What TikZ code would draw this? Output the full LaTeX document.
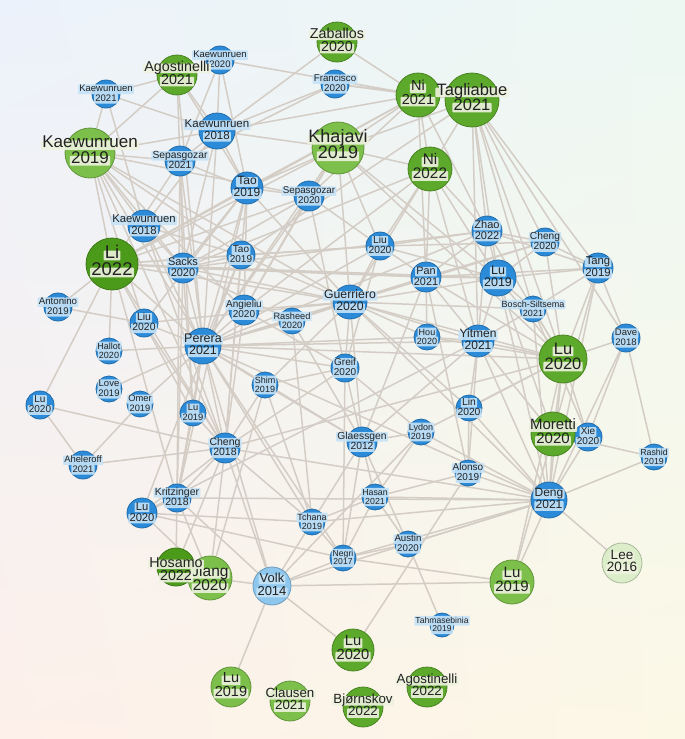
\documentclass[tikz,border=0pt]{standalone}
\usepackage{fontspec}
\setmainfont{Liberation Sans}
\usetikzlibrary{shadings}
\pgfdeclarelayer{bgshade}
\pgfdeclarelayer{edges}
\pgfsetlayers{bgshade,edges,main}
\definecolor{edgec}{HTML}{D4CDC5}
\definecolor{bluec}{HTML}{2B8BD9}
\definecolor{bluev}{HTML}{8DC7EE}
\definecolor{bluel}{HTML}{C6E3F7}
\definecolor{greenc}{HTML}{5DA92B}
\definecolor{greenlt}{HTML}{7DBF4B}
\definecolor{greendk}{HTML}{4C9A1A}
\definecolor{greenpale}{HTML}{DCEDC9}
\definecolor{greenl}{HTML}{EEF2DF}
\definecolor{txt}{HTML}{222222}
\definecolor{bgul}{HTML}{ECF2FB}
\definecolor{bgur}{HTML}{EDF8F3}
\definecolor{bgll}{HTML}{FDF0EA}
\definecolor{bglr}{HTML}{FCF8E6}
\tikzset{
  circ/.style={circle, inner sep=0pt, draw=#1!78!black, line width=0.8pt, fill=#1},
  lab/.style={fill=#1, fill opacity=0.9, text opacity=1, text=txt, inner xsep=1.2pt, inner ysep=0.2pt,
              text height=0.72em, text depth=0.2em, rounded corners=0.8pt},
  edge/.style={draw=edgec, line width=1.5pt},
}
\def\lsp{0.5}
% circle: name, x, y, r, colour
\newcommand\ndc[5]{\node[circ=#5, minimum size={2*#4}] (#1) at (#2,#3) {};}
% labels: name, x, y, label colour, line1, line2, font size
\newcommand\ndl[7]{%
  \node[lab=#4, font=\fontsize{#7}{#7}\selectfont] (#1a) at (#2,{#3-\lsp*#7}) {#5};
  \node[lab=#4, font=\fontsize{#7}{#7}\selectfont] (#1b) at (#2,{#3+\lsp*#7}) {#6};
}
% name, x, y, r, circle colour, label colour, line1, line2, font size
\newcommand\nd[9]{\ndc{#1}{#2}{#3}{#4}{#5}\ndl{#1}{#2}{#3}{#6}{#7}{#8}{#9}}
\newcommand\bn[7]{\nd{#1}{#2}{#3}{#4}{bluec}{bluel}{#5}{#6}{#7}}
\begin{document}
\begin{tikzpicture}[x=1pt,y=-1pt]
\useasboundingbox (0,0) rectangle (685,739);
\begin{pgfonlayer}{bgshade}
\shade[upper left=bgul, upper right=bgur, lower left=bgll, lower right=bglr]
  (0,0) rectangle (685,739);
\end{pgfonlayer}
% ---------- blue nodes ----------
\bn{kae21}{106}{94}{14}{Kaewunruen}{2021}{9.5}
\bn{kae20}{220}{60}{14}{Kaewunruen}{2020}{9.5}
\bn{fra20}{335}{84}{14}{Francisco}{2020}{9.8}
\bn{kae18a}{217}{131}{18}{Kaewunruen}{2018}{11.5}
\bn{sep21}{180}{161}{15}{Sepasgozar}{2021}{10.3}
\bn{tao19a}{247}{188}{16}{Tao}{2019}{12}
\bn{sep20}{309}{196}{15}{Sepasgozar}{2020}{9.8}
\bn{kae18b}{144}{226}{16}{Kaewunruen}{2018}{11.3}
\bn{sac20}{183}{268}{15}{Sacks}{2020}{11}
\bn{tao19b}{241}{255}{14}{Tao}{2019}{10}
\bn{liu20a}{380}{246}{14}{Liu}{2020}{10.3}
\bn{zha22}{487}{231}{15}{Zhao}{2022}{11}
\bn{che20}{545}{242}{14}{Cheng}{2020}{10.2}
\bn{tan19}{598}{268}{15}{Tang}{2019}{11.3}
\bn{pan21}{426}{277}{15}{Pan}{2021}{10.8}
\bn{lu19r}{498}{278}{18}{Lu}{2019}{12.5}
\bn{bos21}{533}{309}{13}{Bosch-Siltsema}{2021}{9}
\bn{ant19}{58}{307}{14}{Antonino}{2019}{9.7}
\bn{liu20b}{144}{323}{14}{Liu}{2020}{10.4}
\bn{ang20}{244}{310}{15}{Angieliu}{2020}{10}
\bn{ras20}{292}{321}{13}{Rasheed}{2020}{9.2}
\bn{gue20}{350}{302}{17}{Guerriero}{2020}{12.3}
\bn{hou20}{427}{337}{13}{Hou}{2020}{9}
\bn{yit21}{478}{341}{16}{Yitmen}{2021}{12}
\bn{dav18}{626}{338}{14}{Dave}{2018}{9.5}
\bn{hal20}{109}{351}{13}{Hallot}{2020}{9}
\bn{per21}{203}{346}{18}{Perera}{2021}{12.5}
\bn{gre20}{345}{368}{14}{Greif}{2020}{10}
\bn{shi19}{265}{385}{13}{Shim}{2019}{9}
\bn{lov19}{109}{389}{13}{Love}{2019}{9.5}
\bn{ome19}{140}{404}{13}{Omer}{2019}{9.3}
\bn{lu19l}{193}{413}{13}{Lu}{2019}{9.3}
\bn{lu20l}{40}{405}{14}{Lu}{2020}{10}
\bn{lin20}{469}{408}{13}{Lin}{2020}{10.3}
\bn{gla12}{362}{442}{15}{Glaessgen}{2012}{10.3}
\bn{lyd19}{421}{432}{13}{Lydon}{2019}{9}
\bn{ras19}{654}{457}{13}{Rashid}{2019}{8.8}
\bn{che18}{225}{448}{15}{Cheng}{2018}{10.5}
\bn{ahe21}{83}{465}{14}{Aheleroff}{2021}{9.4}
\bn{alo19}{468}{473}{13}{Alonso}{2019}{10}
\bn{has21}{375}{497}{13}{Hasan}{2021}{8.8}
\bn{den21}{549}{500}{18}{Deng}{2021}{12}
\bn{kri18}{177}{498}{14}{Kritzinger}{2018}{10.5}
\bn{lu20bl}{142}{513}{15}{Lu}{2020}{11.2}
\bn{tch19}{312}{522}{13}{Tchana}{2019}{9}
\bn{aus20}{408}{544}{13}{Austin}{2020}{9.7}
\bn{neg17}{343}{558}{13}{Negri}{2017}{8.6}
\bn{tah19}{442}{625}{12}{Tahmasebinia}{2019}{8.6}
\nd{vol14}{272}{586}{19}{bluev}{bluel}{Volk}{2014}{13}
\bn{xie20}{588}{437}{14}{Xie}{2020}{10}
% ---------- green nodes ----------
\def\lsp{0.46}
\nd{ago21}{177}{75}{20}{greenc}{greenl}{Agostinelli}{2021}{14.3}
\nd{kae19}{90}{153}{25}{greenlt}{greenl}{Kaewunruen}{2019}{17}
\nd{zab20}{337}{42}{20}{greenc}{greenl}{Zaballos}{2020}{14.3}
\nd{ni21}{418}{95}{22}{greenc}{greenl}{Ni}{2021}{14.5}
\nd{tag21}{472}{100}{27}{greenc}{greenl}{Tagliabue}{2021}{16.5}
\nd{kha19}{338}{148}{26}{greenlt}{greenl}{Khajavi}{2019}{18}
\nd{ni22}{430}{169}{22}{greenc}{greenl}{Ni}{2022}{15.3}
\nd{li22}{112}{264}{26}{greendk}{greenl}{Li}{2022}{18.5}
\nd{lu20r}{563}{359}{24}{greenc}{greenl}{Lu}{2020}{16.5}
\nd{mor20}{553}{434}{22}{greenc}{greenl}{Moretti}{2020}{15}
\nd{lee16}{622}{563}{20}{greenpale}{greenl}{Lee}{2016}{13.5}
\nd{lu19br}{512}{582}{22}{greenlt}{greenl}{Lu}{2019}{15}
\ndc{hos22}{176}{567}{19}{greendk}
\ndc{jia20}{210}{578}{22}{greenlt}
\ndl{jia20}{210}{581}{greenl}{Jiang}{2020}{15.5}
\ndl{hos22}{176}{571}{greenl}{Hosamo}{2022}{14.3}
\nd{lu20b}{353}{650}{21}{greenc}{greenl}{Lu}{2020}{14.7}
\nd{lu19bl}{231}{687}{20}{greenlt}{greenl}{Lu}{2019}{14.5}
\nd{cla21}{290}{701}{20}{greenlt}{greenl}{Clausen}{2021}{13.3}
\nd{bjo22}{363}{707}{20}{greenc}{greenl}{Bjørnskov}{2022}{13.3}
\nd{ago22}{427}{687}{20}{greenc}{greenl}{Agostinelli}{2022}{13.3}
% ---------- edges ----------
\begin{pgfonlayer}{edges}
\foreach \a/\b in {
kae21/ago21, kae21/kae19, kae21/kae18a, kae21/kae18b,
ago21/kae19, ago21/kae18a, ago21/tao19a, ago21/sep21, ago21/per21,
kae20/ni21, kae20/kae18a, kae20/sep21, kae20/tao19a,
kae19/kae18a, kae19/sep21, kae19/kae18b, kae19/li22, kae19/sac20, kae19/per21, kae19/tao19b, kae19/gue20,
kae19/liu20b, kae19/che18, kae19/ang20, kae19/sep20,
fra20/ni21, fra20/kae18a, fra20/sep21, fra20/tag21,
zab20/kae18a, zab20/ni21,
kae18a/ni21, kae18a/kha19, kae18a/tao19a, kae18a/sep21, kae18a/kae18b, kae18a/per21, kae18a/sac20,
sep21/tao19a, sep21/per21, sep21/sac20, sep21/li22, sep21/kri18, sep21/lu19l,
kha19/ni21, kha19/tag21, kha19/ni22, kha19/tao19a, kha19/sep20, kha19/li22, kha19/per21, kha19/gue20,
kha19/lu20r, kha19/ang20, kha19/lu19r, kha19/liu20a,
ni21/tag21, ni21/ni22, ni21/tao19a, ni21/sep20, ni21/zha22, ni21/pan21, ni21/li22,
tag21/ni22, tag21/zha22, tag21/che20, tag21/tan19, tag21/lu19r, tag21/yit21, tag21/lu20r, tag21/dav18,
tag21/bos21, tag21/tao19b,
ni22/liu20a, ni22/pan21, ni22/zha22, ni22/lu19r, ni22/gue20, ni22/sac20, ni22/ang20, ni22/yit21,
tao19a/sep20, tao19a/li22, tao19a/sac20, tao19a/per21, tao19a/ang20, tao19a/gue20, tao19a/liu20b,
tao19a/che18, tao19a/kri18,
sep20/per21, sep20/sac20, sep20/gre20, sep20/liu20a, sep20/ang20, sep20/li22,
li22/ant19, li22/sac20, li22/tao19b, li22/liu20a, li22/pan21, li22/gue20, li22/per21, li22/lu20l,
li22/kri18, li22/hal20, li22/che18, li22/liu20b, li22/lu19r,
kae18b/sac20, kae18b/per21, kae18b/tao19b, kae18b/che18,
sac20/tao19b, sac20/per21, sac20/gue20, sac20/pan21, sac20/lu19l, sac20/kri18, sac20/ras20, sac20/zha22,
tao19b/per21, tao19b/gue20, tao19b/liu20a, tao19b/che18, tao19b/lu20bl,
liu20a/pan21, liu20a/gue20, liu20a/zha22, liu20a/che20, liu20a/per21, liu20a/gre20, liu20a/lu19r,
zha22/pan21, zha22/lu19r, zha22/che20, zha22/tan19, zha22/per21, zha22/yit21, zha22/lu20r,
che20/tan19, che20/lu19r, che20/lu20r, che20/gue20, che20/pan21,
tan19/lu19r, tan19/bos21, tan19/dav18, tan19/lu20r, tan19/mor20, tan19/den21, tan19/pan21,
pan21/lu19r, pan21/gue20, pan21/yit21, pan21/hou20, pan21/per21, pan21/lu20r, pan21/gla12, pan21/alo19,
lu19r/bos21, lu19r/yit21, lu19r/gue20, lu19r/lu20r, lu19r/mor20, lu19r/den21,
bos21/lu20r, bos21/yit21, bos21/den21, bos21/gue20, bos21/xie20,
ant19/liu20b,
liu20b/per21, liu20b/gue20, liu20b/che18, liu20b/lu19l,
ang20/per21, ang20/gre20, ang20/che18, ang20/gue20,
ras20/gue20, ras20/gla12, ras20/per21, ras20/tch19,
gue20/per21, gue20/yit21, gue20/hou20, gue20/gre20, gue20/lu20r, gue20/lin20, gue20/den21, gue20/shi19, gue20/gla12,
hou20/yit21, hou20/per21, hou20/lu20r,
yit21/lu20r, yit21/den21, yit21/lin20, yit21/mor20, yit21/alo19, yit21/per21, yit21/lu20bl, yit21/gla12,
dav18/lu20r, dav18/ras19, dav18/den21, dav18/xie20,
hal20/per21,
per21/gre20, per21/shi19, per21/lu19l, per21/che18, per21/kri18, per21/ome19, per21/gla12, per21/lu20r,
per21/den21, per21/tch19, per21/vol14, per21/neg17,
lu20r/mor20, lu20r/den21, lu20r/lin20, lu20r/xie20, lu20r/lu19br, lu20r/lyd19, lu20r/che18,
gre20/gla12, gre20/che18, gre20/shi19, gre20/lyd19, gre20/neg17,
shi19/che18, shi19/gla12, shi19/jia20, shi19/tch19,
lov19/per21, ome19/ahe21,
lu19l/che18, lu19l/kri18,
lu20l/ahe21, lu20l/che18,
lin20/den21, lin20/alo19,
gla12/neg17, gla12/has21, gla12/tch19, gla12/aus20, gla12/lyd19,
lyd19/den21, lyd19/vol14, lyd19/has21,
xie20/den21, xie20/mor20,
ras19/mor20, ras19/den21,
che18/kri18, che18/tch19, che18/jia20, che18/vol14, che18/hos22, che18/lu20bl, che18/ahe21, che18/den21,
alo19/den21, alo19/has21, alo19/lu20b,
has21/neg17, has21/den21, has21/aus20, has21/tch19,
den21/mor20, den21/lee16, den21/lu19br, den21/neg17, den21/vol14, den21/aus20, den21/tch19, den21/kri18,
kri18/hos22, kri18/jia20, kri18/lu20bl, kri18/vol14,
lu20bl/tch19, lu20bl/jia20, lu20bl/neg17,
tch19/neg17, tch19/vol14,
aus20/neg17, aus20/tah19,
neg17/vol14, neg17/lu19br,
vol14/jia20, vol14/lu20b, vol14/lu19bl, vol14/lu19br,
mor20/lu19br}
  \draw[edge] (\a) -- (\b);
\end{pgfonlayer}
\end{tikzpicture}
\end{document}
